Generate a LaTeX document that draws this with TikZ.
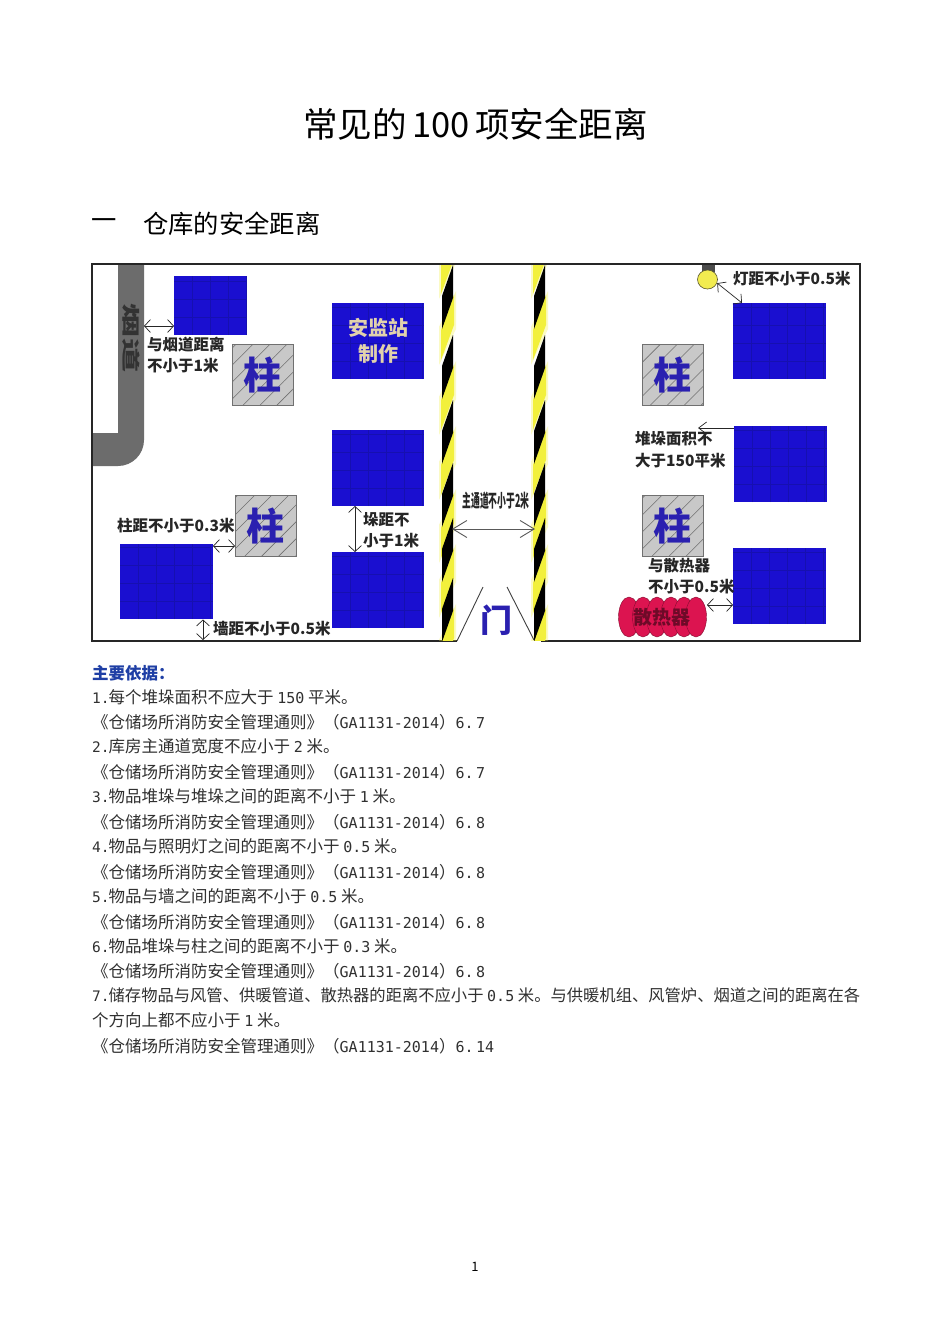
\documentclass[tikz,border=0pt]{standalone}
\usepackage{fontspec}
\usetikzlibrary{arrows.meta,patterns.meta}
\setmainfont{Noto Sans CJK SC}
\newfontfamily\lat{DejaVu Sans Mono}
\definecolor{stackblue}{HTML}{1A0FD0}
\definecolor{gridblue}{HTML}{1610B0}
\definecolor{pillargray}{HTML}{C8C8C8}
\definecolor{hatch}{HTML}{707070}
\definecolor{inkblue}{HTML}{2A20B0}
\definecolor{labelink}{HTML}{262626}
\definecolor{bodyink}{HTML}{303030}
\definecolor{headblue}{HTML}{1F3FA5}
\definecolor{flue}{HTML}{6C6C6C}
\definecolor{radred}{HTML}{DC1450}
\definecolor{lampy}{HTML}{F2EC50}
\definecolor{stripey}{HTML}{F2F03C}
\definecolor{boxtext}{HTML}{E2D2AC}
\newcommand{\fs}[1]{\fontsize{#1}{#1}\selectfont}
\newcommand{\dg}[1]{{\lat\fs{15}#1}}
\newcommand{\nm}[1]{{\lat\fs{14.5}#1}\hspace{-1pt}}
\tikzset{
  x=1pt,y=-1pt,
  stackbox/.style={fill=stackblue,inner sep=0pt,outer sep=0pt,
    path picture={
      \foreach \k in {18,36,...,90}{
        \draw[gridblue,line width=.35pt]
          ([xshift=\k pt]path picture bounding box.south west) -- ([xshift=\k pt]path picture bounding box.north west);
        \draw[gridblue,line width=.35pt]
          ([yshift=\k pt]path picture bounding box.south west) -- ([yshift=\k pt]path picture bounding box.south east);
      }
    }},
  pillarbox/.style={draw=hatch,line width=.8pt,inner sep=0pt,outer sep=0pt,minimum width=61pt,minimum height=61pt,
    preaction={fill=pillargray},pattern={Lines[angle=45,distance=12pt,line width=.6pt]},pattern color=hatch,
    font=\fs{38}\bfseries,text=inkblue},
  lbl/.style={font=\fs{15.5}\bfseries,text=labelink,inner sep=0pt,anchor=west},
  dim/.style={draw=labelink,line width=.7pt,{Straight Barb[length=6pt,width=13pt]}-{Straight Barb[length=6pt,width=13pt]}},
  dimwide/.style={draw=black!65,line width=.9pt,{Straight Barb[length=14pt,width=17pt]}-{Straight Barb[length=14pt,width=17pt]}},
  dimone/.style={draw=labelink,line width=.7pt,-{Straight Barb[length=8pt,width=12pt]}},
  body/.style={font=\fs{16.5},text=bodyink,inner sep=0pt,anchor=west},
}
\newcommand{\lanestripes}[1]{%
  \begin{scope}
    \clip ({#1-4},265) rectangle ({#1+15},640);
    \foreach \s in {199,265,335,400,463,518,578}{
      \fill[stripey,opacity=.3] ({#1+14},{\s+26}) -- ({#1+14},{\s+64}) -- ({#1-3},{\s+100}) -- ({#1-3},{\s+62}) -- cycle;
      \fill[stripey] ({#1+12},{\s+30}) -- ({#1+12},{\s+60}) -- ({#1-1},{\s+95}) -- ({#1-1},{\s+65}) -- cycle;
    }
    \foreach \s in {199,265,335,400,463,518,578}{
      \fill[black] ({#1+11},{\s}) -- ({#1+11},{\s+33}) -- ({#1},{\s+64}) -- ({#1},{\s+31}) -- cycle;
    }
  \end{scope}}
\begin{document}
\begin{tikzpicture}
\useasboundingbox (0,0) rectangle (950,1344);
\fill[white] (0,0) rectangle (950,1344);
% headings
\node[font=\fs{34.5},text=black,inner sep=0pt] (title) at (475.5,124) {常见的{\,}100{\,}项安全距离};
\node[font=\fs{25.3},text=black,inner sep=0pt,anchor=west] (secnum) at (91,224) {一};
\node[font=\fs{25.3},text=black,inner sep=0pt,anchor=west] (sec) at (143,224) {仓库的安全距离};
% frame
\draw[black!85,line width=2pt] (92,264) rectangle (860,641);
\fill[white] (457,640) rectangle (541,642.5);
% flue
\fill[flue] (118,265) -- (144,265) -- (144,440) arc[start angle=0,end angle=90,radius=26] -- (93,466) -- (93,433) -- (118,433) -- cycle;
\node[font=\fs{18}\bfseries,text=black!80,rotate=-90,xscale=1.9,transform shape,inner sep=0pt] (fluetext) at (131,338) {烟道};
% lanes
\lanestripes{442}
\lanestripes{534}
% stacks
\node[stackbox,minimum width=73pt,minimum height=59pt] (sa) at (210.5,305.5) {};
\node[stackbox,minimum width=92pt,minimum height=76pt,font=\fs{20}\bfseries,text=boxtext,align=center] (sb) at (378,341) {安监站\\[6pt]制作};
\node[stackbox,minimum width=92pt,minimum height=76pt] (sc) at (378,468) {};
\node[stackbox,minimum width=92pt,minimum height=76pt] (sd) at (378,590) {};
\node[stackbox,minimum width=93pt,minimum height=75pt] (se) at (166.5,581.5) {};
\node[stackbox,minimum width=93pt,minimum height=76pt] (sf) at (779.5,341) {};
\node[stackbox,minimum width=93pt,minimum height=76pt] (sg) at (780.5,464) {};
\node[stackbox,minimum width=93pt,minimum height=76pt] (sh) at (779.5,586) {};
% pillars
\node[pillarbox] (p1) at (262.5,374.5) {柱};
\node[pillarbox] (p2) at (265.5,525.5) {柱};
\node[pillarbox] (p3) at (672.5,374.5) {柱};
\node[pillarbox] (p4) at (672.5,525.5) {柱};
% door
\coordinate (da) at (457,641);
\coordinate (db) at (483,587);
\coordinate (dc) at (507,587);
\coordinate (dd) at (534,640);
\draw[black!75,line width=.9pt] (da) -- (db) (dc) -- (dd);
\node[font=\fs{32}\bfseries,text=inkblue,inner sep=0pt] (door) at (496,620) {门};
% lamp
\fill[black!70] (702,265) rectangle (715,272);
\draw[black!50!olive,line width=.6pt,fill=lampy] (707.5,279.5) ellipse[x radius=10,y radius=9.5];
\node[inner sep=0pt,minimum size=0pt] (lamp) at (717,283) {};
% radiator
\foreach \cx in {629,643,657,671,684,696}{
  \fill[radred] (\cx,617) ellipse[x radius=10.5,y radius=20];
  \draw[black!40!radred,line width=.4pt] (\cx,617) ellipse[x radius=10.5,y radius=20];
}
\node[minimum width=88pt,minimum height=38pt,inner sep=0pt,font=\fs{19}\bfseries,text=black!50!radred,outer sep=0pt] (rad) at (662,617) {散热器};
% image labels
\node[lbl] (l1) at (147,345) {与烟道距离};
\node[lbl] (l2) at (147,366) {不小于1米};
\node[lbl] (l3) at (117,526) {柱距不小于0.3米};
\node[lbl] (l4) at (213,629) {墙距不小于0.5米};
\node[lbl] (l5) at (363,520) {垛距不};
\node[lbl] (l6) at (363,541) {小于1米};
\node[lbl] (l7) at (733,279) {灯距不小于0.5米};
\node[lbl] (l8) at (635,439) {堆垛面积不};
\node[lbl] (l9) at (635,461) {大于150平米};
\node[lbl] (l10) at (648,566) {与散热器};
\node[lbl] (l11) at (648,587) {不小于0.5米};
\node[font=\fs{18}\bfseries,text=labelink,xscale=.49,transform shape,inner sep=0pt] (l12) at (496,501) {主通道不小于2米};
% dimension arrows
\coordinate (g1) at (144,326);
\draw[dim] (g1) -- (g1 -| sa.west);
\coordinate (g2) at (213,546);
\draw[dim] (g2) -- (g2 -| p2.west);
\coordinate (g3) at (203,619.5);
\coordinate (g3b) at (203,640);
\draw[dim] (g3) -- (g3b);
\coordinate (g4) at (355,506);
\draw[dim] (g4) -- (g4 |- sd.north);
\coordinate (g5) at (452,529);
\coordinate (g5b) at (535,529);
\draw[dimwide] (g5) -- (g5b);
\coordinate (g6) at (742,303);
\draw[dim] (lamp) -- (g6);
\coordinate (g7) at (734,428);
\coordinate (g7b) at (698,428);
\draw[dimone] (g7) -- (g7b);
\coordinate (g8) at (707,605);
\draw[dim] (g8) -- (g8 -| sh.west);
% body text
\node[body,text=headblue,font=\fs{16.5}\bfseries] (b0) at (92,673) {主要依据：};
\node[body] (b1) at (92,697) {\nm{1.}每个堆垛面积不应大于 \dg{150} 平米。};
\node[body] (c1) at (92,722) {《仓储场所消防安全管理通则》（\dg{GA1131-2014}）\dg{6.\,7}};
\node[body] (b2) at (92,746) {\nm{2.}库房主通道宽度不应小于 \dg{2} 米。};
\node[body] (c2) at (92,772) {《仓储场所消防安全管理通则》（\dg{GA1131-2014}）\dg{6.\,7}};
\node[body] (b3) at (92,796) {\nm{3.}物品堆垛与堆垛之间的距离不小于 \dg{1} 米。};
\node[body] (c3) at (92,822) {《仓储场所消防安全管理通则》（\dg{GA1131-2014}）\dg{6.\,8}};
\node[body] (b4) at (92,846) {\nm{4.}物品与照明灯之间的距离不小于 \dg{0.5} 米。};
\node[body] (c4) at (92,872) {《仓储场所消防安全管理通则》（\dg{GA1131-2014}）\dg{6.\,8}};
\node[body] (b5) at (92,896) {\nm{5.}物品与墙之间的距离不小于 \dg{0.5} 米。};
\node[body] (c5) at (92,922) {《仓储场所消防安全管理通则》（\dg{GA1131-2014}）\dg{6.\,8}};
\node[body] (b6) at (92,946) {\nm{6.}物品堆垛与柱之间的距离不小于 \dg{0.3} 米。};
\node[body] (c6) at (92,971) {《仓储场所消防安全管理通则》（\dg{GA1131-2014}）\dg{6.\,8}};
\node[body,font=\fs{16.3}] (b7) at (92,995) {\nm{7.}储存物品与风管、供暖管道、散热器的距离不应小于 \dg{0.5} 米。与供暖机组、风管炉、烟道之间的距离在各};
\node[body] (b7b) at (92,1020) {个方向上都不应小于 \dg{1} 米。};
\node[body] (c7) at (92,1046) {《仓储场所消防安全管理通则》（\dg{GA1131-2014}）\dg{6.\,14}};
\node[font=\fs{13},text=black,inner sep=0pt] (page) at (475,1267) {1};
\end{tikzpicture}
\end{document}
